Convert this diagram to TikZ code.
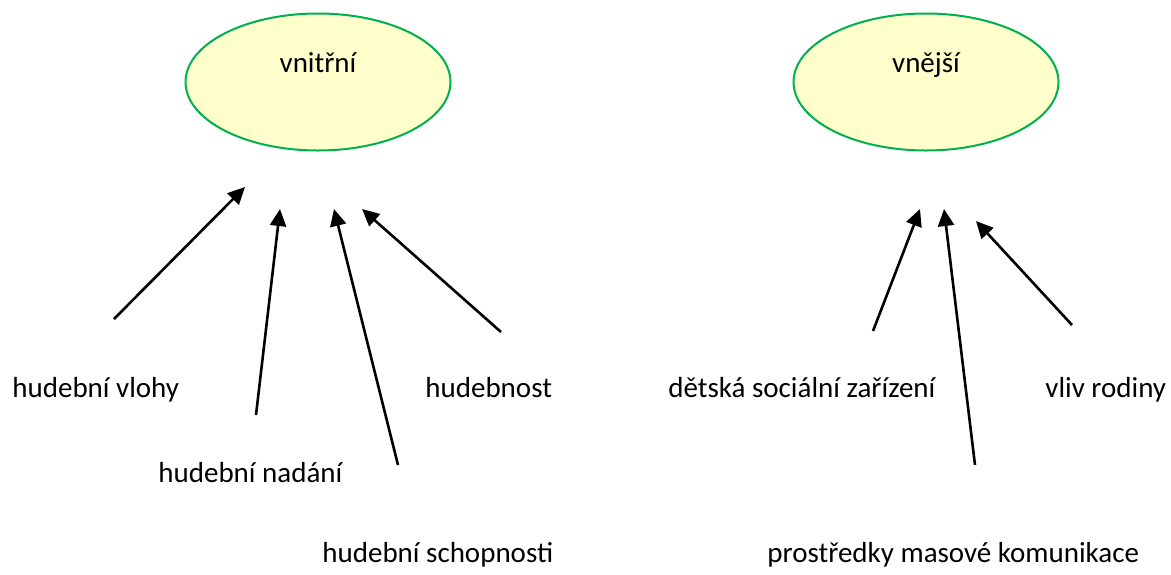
\documentclass[tikz,border=0pt]{standalone}
\usepackage{fontspec}
\setmainfont{Carlito}
\usetikzlibrary{arrows.meta}
\usetikzlibrary{shapes.geometric}

\definecolor{elfill}{HTML}{FFFFCC}
\definecolor{elline}{HTML}{00B050}

\tikzset{
  faktor/.style={ellipse,draw=elline,fill=elfill,line width=1pt,minimum width=132.5pt,minimum height=68.5pt,inner sep=0pt},
  popis/.style={anchor=base west,inner sep=0pt,font=\fontsize{14.5}{17}\selectfont},
  sipka/.style={line width=1.3pt,-{Triangle[length=8.5pt,width=8pt]}}
}

\begin{document}
\begin{tikzpicture}[x=0.5pt,y=-0.5pt]
        \useasboundingbox (0,0) rectangle (1171,574);

        \node[faktor] (vnitrni) at (318,82) {};
        \node[faktor] (vnejsi) at (926,82) {};
        \node[popis,anchor=base] (tvnitrni) at (318,72) {vnitřní};
        \node[popis,anchor=base] (tvnejsi) at (926,72) {vnější};

        \node[popis] (vlohy) at (12,397) {hudební vlohy};
        \node[popis] (nadani) at (158,482) {hudební nadání};
        \node[popis] (schopnosti) at (322,562) {hudební schopnosti};
        \node[popis] (hudebnost) at (425,397) {hudebnost};
        \node[popis] (zarizeni) at (668,397) {dětská sociální zařízení};
        \node[popis] (komunikace) at (767,562) {prostředky masové komunikace};
        \node[popis] (rodina) at (1045,397) {vliv rodiny};

        % konce sipek
        \coordinate (a1) at (114,319);  \coordinate (b1) at (245,187);
        \coordinate (a2) at (256,415);  \coordinate (b2) at (280,209);
        \coordinate (a3) at (398,465);  \coordinate (b3) at (334,209);
        \coordinate (a4) at (501,332);  \coordinate (b4) at (362,209);
        \coordinate (a5) at (873,331);  \coordinate (b5) at (920,209);
        \coordinate (a6) at (975,465);  \coordinate (b6) at (944,209);
        \coordinate (a7) at (1072,325); \coordinate (b7) at (976,221);

        \foreach \i in {1,...,7}
          \draw[sipka] (a\i) -- (b\i);
      \end{tikzpicture}
\end{document}
